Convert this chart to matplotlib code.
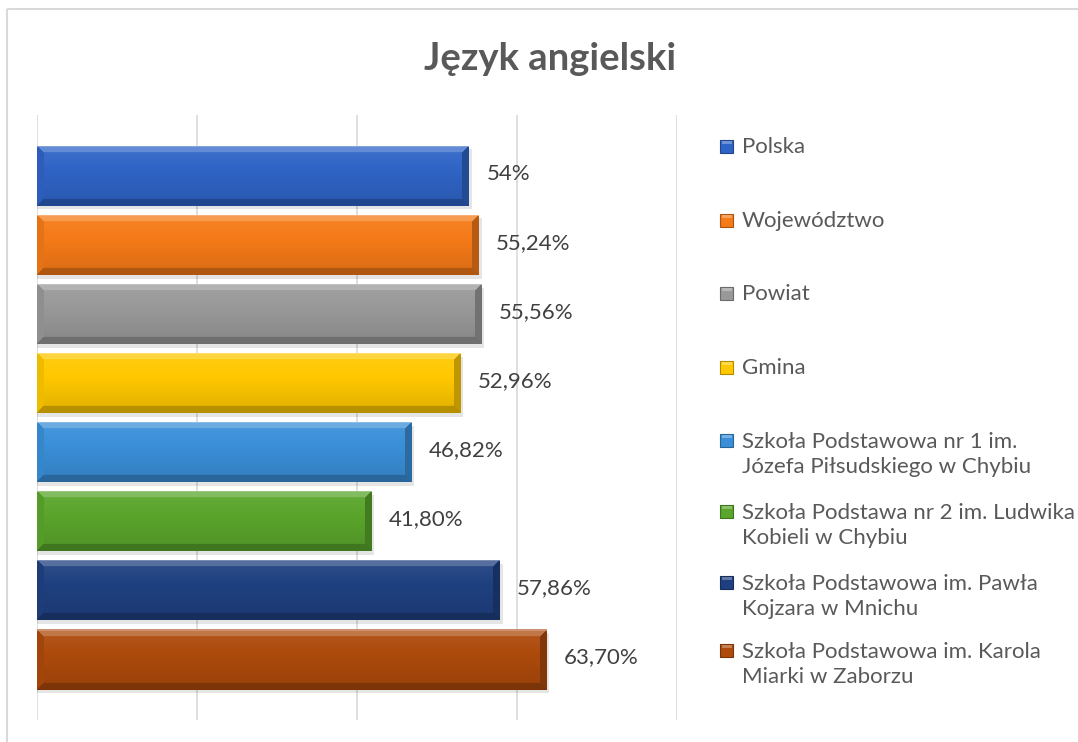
import numpy as np
import matplotlib
matplotlib.use("Agg")
import matplotlib.pyplot as plt
from matplotlib.colors import to_rgb
from matplotlib.patches import Rectangle

# ---------------- data ----------------
categories = [
    "Polska",
    "Województwo",
    "Powiat",
    "Gmina",
    "Szkoła Podstawowa nr 1 im.\nJózefa Piłsudskiego w Chybiu",
    "Szkoła Podstawa nr 2 im. Ludwika\nKobieli w Chybiu",
    "Szkoła Podstawowa im. Pawła\nKojzara w Mnichu",
    "Szkoła Podstawowa im. Karola\nMiarki w Zaborzu",
]
values = [54.00, 55.24, 55.56, 52.96, 46.82, 41.80, 57.86, 63.70]
value_labels = ["54%", "55,24%", "55,56%", "52,96%", "46,82%", "41,80%", "57,86%", "63,70%"]
colors = ["#2f64c6", "#f57a18", "#999999", "#ffc800",
          "#3a8fd8", "#5aa52c", "#1f4080", "#ad4a0c"]
title = "Język angielski"

# ---------------- style ----------------
W_PX, H_PX = 1078, 742
FONT = "Lato"
plt.rcParams["font.family"] = [FONT, "DejaVu Sans"]

fig = plt.figure(figsize=(W_PX / 100, H_PX / 100), dpi=100)
fig.patch.set_facecolor("white")

# overlay axes in pixel coordinates (for frame + legend)
lax = fig.add_axes([0, 0, 1, 1])
lax.set_xlim(0, W_PX)
lax.set_ylim(H_PX, 0)
lax.axis("off")
lax.plot([7, 7], [9, H_PX], color="#d9d9d9", lw=1.5, solid_capstyle="butt")
lax.plot([7, W_PX], [9, 9], color="#d9d9d9", lw=1.5, solid_capstyle="butt")

# plot area
left, right, top, bottom = 37, 677, 115, 720
ax = fig.add_axes([left / W_PX, 1 - bottom / H_PX, (right - left) / W_PX, (bottom - top) / H_PX])
ax.set_xlim(0, 80)
ax.set_ylim(7.876, -0.883)
ax.set_xticks([0, 20, 40, 60, 80])
ax.set_yticks([])
ax.tick_params(axis="x", length=0, labelbottom=False)
ax.grid(axis="x", color="#d9d9d9", lw=1.2)
ax.set_axisbelow(True)
for s in ax.spines.values():
    s.set_visible(False)
ax.patch.set_alpha(0)

bar_h = 0.87
px_per_unit = (right - left) / 80.0


def shade(rgb, s):
    s = s[..., None]
    return np.where(s >= 0, rgb + (1 - rgb) * s, rgb * (1 + s))


def bevel_image(color, W, H, b=7):
    rgb = np.array(to_rgb(color))
    yy, xx = np.mgrid[0:H, 0:W] + 0.5
    dt, db, dl, dr = yy, H - yy, xx, W - xx
    s = 0.08 - 0.20 * (yy / H)
    d = np.stack([dt, db, dl, dr])
    which = np.argmin(d, axis=0)
    m = d.min(axis=0)
    edge_shade = np.array([0.25, -0.28, -0.06, -0.25])
    s = np.where(m < b, edge_shade[which], s)
    s = np.where(dt < 2.0, 0.40, s)
    img = np.clip(shade(rgb, s), 0, 1)
    return img


for i, (v, c) in enumerate(zip(values, colors)):
    # soft shadow
    ax.barh(i + 0.05, v + 0.35, height=bar_h, color="#000000", alpha=0.10, zorder=2, lw=0)
    bar = ax.barh(i, v, height=bar_h, color=c, zorder=3, lw=0)[0]
    W = max(2, int(round(v * px_per_unit)))
    H = int(round(bar_h * 69.07))
    img = bevel_image(c, W, H)
    im = ax.imshow(img, extent=[0, v, i + bar_h / 2, i - bar_h / 2],
                   aspect="auto", zorder=4, interpolation="bilinear")
    im.set_clip_path(bar)
    ax.annotate(value_labels[i], (v, i), xytext=(12.5, 1.5), textcoords="offset points",
                va="center", ha="left", fontsize=16, color="#404040")

ax.set_xlim(0, 80)
ax.set_ylim(7.876, -0.883)

# title
fig.text(550 / W_PX, 1 - 59 / H_PX, title, ha="center", va="center",
         fontsize=27.5, fontweight="bold", color="#595959")

# legend (manual, to mimic spreadsheet layout)
legend_first_line_y = [146, 220, 293, 367, 440, 511, 582, 650]
line_pitch = 27
for name, c, y in zip(categories, colors, legend_first_line_y):
    rgb = np.array(to_rgb(c))
    lax.add_patch(Rectangle((720, y - 6.5), 13, 13, facecolor=c,
                            edgecolor=tuple(rgb * 0.7), lw=0.8))
    lax.add_patch(Rectangle((721.5, y - 5), 10, 3, facecolor=tuple(rgb + (1 - rgb) * 0.3), lw=0))
    nlines = name.count("\n") + 1
    yc = y + (nlines - 1) * line_pitch / 2
    lax.text(742, yc + 1, name, ha="left", va="center", fontsize=16, color="#595959",
             linespacing=1.35)

fig.savefig("out.png", dpi=100, facecolor="white")
